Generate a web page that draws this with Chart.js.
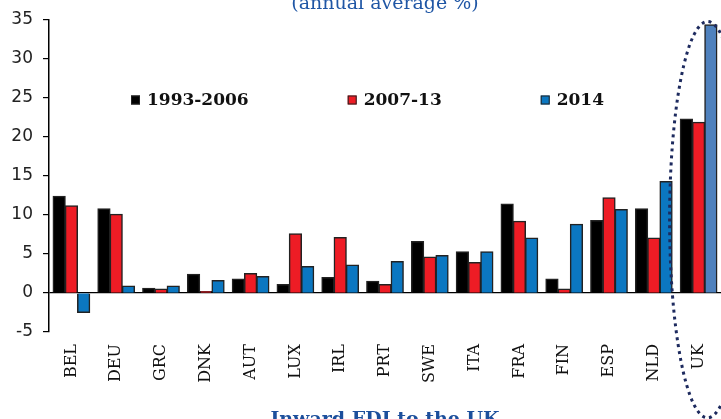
<!DOCTYPE html>
<html>
<head>
<meta charset="utf-8">
<script src="https://cdn.jsdelivr.net/npm/chart.js@4/dist/chart.umd.min.js"></script>
<style>
  html, body { margin: 0; padding: 0; overflow: hidden; background: #fff; width: 721px; height: 419px; }
  #fdi { position: absolute; left: 0; top: -12px; }
</style>
</head>
<body>
<canvas id="fdi" width="721" height="460"></canvas>
<script>
// values (annual average %)
const countries = ['BEL', 'DEU', 'GRC', 'DNK', 'AUT', 'LUX', 'IRL', 'PRT', 'SWE', 'ITA', 'FRA', 'FIN', 'ESP', 'NLD', 'UK'];
const period1 = [12.4, 10.8, 0.6, 2.4, 1.8, 1.1, 2.0, 1.5, 6.6, 5.3, 11.4, 1.8, 9.3, 10.8, 22.3];
const period2 = [11.2, 10.1, 0.5, 0.2, 2.5, 7.6, 7.1, 1.1, 4.6, 3.9, 9.2, 0.5, 12.2, 7.05, 21.9];
const year2014 = [-2.5, 0.9, 0.9, 1.6, 2.1, 3.4, 3.6, 4.05, 4.8, 5.3, 7.05, 8.8, 10.7, 14.3, 34.4];
const seriesNames = ['1993-2006', '2007-13', '2014'];
const yTicks = { min: -5, max: 35, step: 5 };

const blue = '#0b77c1';
const ukBlue = '#4f81bd';
const blueBars = countries.map(c => c === 'UK' ? ukBlue : blue);

// legend drawn inside the plot area
const innerLegend = {
  id: 'innerLegend',
  afterDraw(chart) {
    const ctx = chart.ctx;
    const area = chart.chartArea;
    const y = area.top + 80;
    let x = area.left + 82;
    ctx.save();
    ctx.font = 'bold 17px "DejaVu Serif"';
    ctx.textBaseline = 'middle';
    chart.data.datasets.forEach(ds => {
      const col = Array.isArray(ds.backgroundColor) ? ds.backgroundColor[0] : ds.backgroundColor;
      ctx.fillStyle = col;
      ctx.fillRect(x, y - 4.5, 9, 9);
      ctx.strokeStyle = '#222';
      ctx.lineWidth = 1;
      ctx.strokeRect(x + 0.5, y - 4, 8, 8);
      ctx.fillStyle = '#111';
      ctx.fillText(ds.label, x + 16, y + 1);
      x += 16 + ctx.measureText(ds.label).width + 99;
    });
    ctx.restore();
  }
};

// dotted ellipse round the UK group
const ukRing = {
  id: 'ukRing',
  afterDatasetsDraw(chart) {
    const xs = chart.scales.x, ys = chart.scales.y;
    const cx = xs.getPixelForValue(countries.indexOf('UK')) + 9;
    const cy = ys.getPixelForValue(9.4);
    const ry = cy - ys.getPixelForValue(34.8);
    const ctx = chart.ctx;
    ctx.save();
    ctx.strokeStyle = '#1d2a5e';
    ctx.lineWidth = 3;
    ctx.setLineDash([3, 4]);
    ctx.beginPath();
    ctx.ellipse(cx, cy, 38, ry, 0, 0, Math.PI * 2);
    ctx.stroke();
    ctx.restore();
  }
};

new Chart(document.getElementById('fdi'), {
  type: 'bar',
  data: {
    labels: countries,
    datasets: [
      { label: seriesNames[0], data: period1, backgroundColor: '#000000' },
      { label: seriesNames[1], data: period2, backgroundColor: '#ee1c25' },
      { label: seriesNames[2], data: year2014, backgroundColor: blueBars }
    ]
  },
  options: {
    responsive: false,
    animation: false,
    devicePixelRatio: 1,
    layout: { padding: 0 },
    datasets: {
      bar: {
        categoryPercentage: 0.82,
        barPercentage: 1.0,
        borderColor: '#222',
        borderWidth: 1.5,
        inflateAmount: 0.5
      }
    },
    plugins: {
      legend: { display: false },
      tooltip: { enabled: false },
      title: {
        display: true,
        text: '(annual average %)',
        fullSize: false,
        color: '#1f56a5',
        font: { family: '"DejaVu Serif"', size: 19, weight: 'normal' },
        padding: { top: 5, bottom: 4.2 }
      },
      subtitle: {
        display: true,
        position: 'bottom',
        text: 'Inward FDI to the UK',
        fullSize: false,
        color: '#1c4f9c',
        font: { family: '"DejaVu Serif"', size: 19, weight: 'bold' },
        padding: { top: 0, bottom: 16.2 }
      }
    },
    scales: {
      x: {
        grid: { display: false },
        border: { display: false },
        ticks: {
          autoSkip: false,
          minRotation: 90,
          maxRotation: 90,
          padding: 4,
          color: '#111',
          font: { family: '"DejaVu Serif"', size: 16 }
        },
        afterFit: s => {
          s.height = 77;
          s.paddingLeft = 0;
          s.paddingRight = 0;
        }
      },
      y: {
        min: yTicks.min,
        max: yTicks.max,
        ticks: {
          stepSize: yTicks.step,
          padding: 10,
          color: '#222',
          font: { family: '"DejaVu Sans"', size: 17 }
        },
        grid: {
          color: c => c.tick && c.tick.value === 0 ? '#000' : 'rgba(0,0,0,0)',
          tickColor: '#000',
          tickLength: 6,
          lineWidth: 1.2
        },
        border: { display: true, color: '#000', width: 1.5 },
        afterFit: s => { s.width = 49; }
      }
    }
  },
  plugins: [innerLegend, ukRing]
});
</script>
</body>
</html>
